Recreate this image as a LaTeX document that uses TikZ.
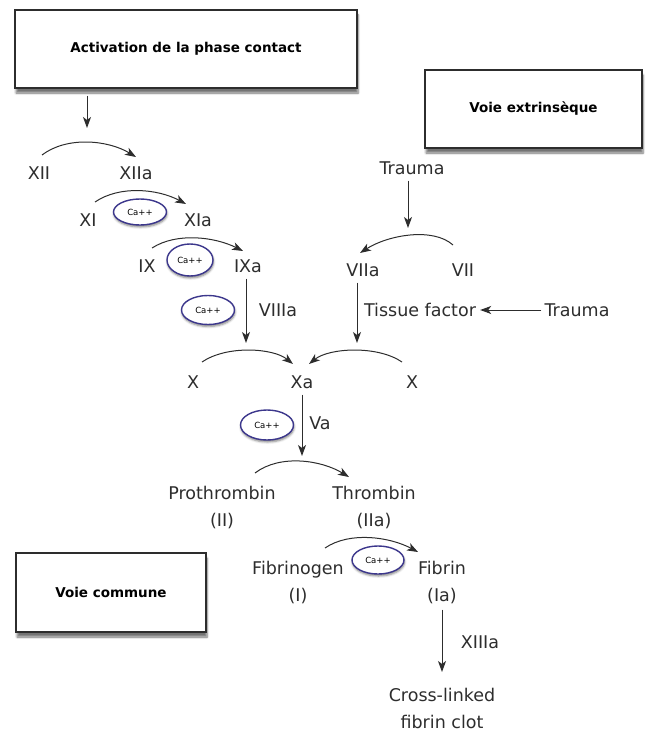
\documentclass[tikz,border=0pt]{standalone}
\usepackage{fontspec}
\setmainfont{DejaVu Sans}
\usetikzlibrary{arrows.meta,shapes.geometric,shadows.blur}
\definecolor{ringc}{RGB}{60,55,140}
\definecolor{inkc}{RGB}{45,45,45}
\tikzset{
  arr/.style={-{Stealth[length=11pt,width=8pt,inset=3pt]},line width=1pt,draw=inkc},
  lbl/.style={inner sep=0pt,font=\fontsize{17.5}{27}\selectfont,text=inkc},
  titlebox/.style={draw=inkc,line width=1.4pt,fill=white,rectangle,inner sep=0pt,
     font=\fontsize{13.5}{16}\selectfont\bfseries,
     blur shadow={shadow xshift=1pt,shadow yshift=-5pt,shadow blur steps=6,shadow opacity=55}},
  caion/.style={ellipse,draw=ringc,line width=1.4pt,fill=white,inner sep=0pt,
     font=\fontsize{8.5}{9}\selectfont,
     blur shadow={shadow xshift=0.5pt,shadow yshift=-2pt,shadow blur steps=4,shadow opacity=50}},
}
\begin{document}
\begin{tikzpicture}[x=1pt,y=-1pt]
\useasboundingbox (0,0) rectangle (652,733);
% title boxes
\node[titlebox,minimum width=342pt,minimum height=78pt] (box1) at (186,49) {Activation de la phase contact};
\node[titlebox,minimum width=217pt,minimum height=78pt] (box2) at (533.5,109) {Voie extrinsèque};
\node[titlebox,minimum width=190pt,minimum height=79pt] (box3) at (111,592.5) {Voie commune};

% intrinsic cascade
\node[lbl] (xii) at (39,173) {XII};
\node[lbl] (xiia) at (136,173) {XIIa};
\node[lbl] (xi) at (88,220) {XI};
\node[lbl] (xia) at (198,220) {XIa};
\node[lbl] (ix) at (147,266) {IX};
\node[lbl] (ixa) at (248,266) {IXa};
\node[lbl] (viiia) at (278,310) {VIIIa};
\node[caion,minimum width=53pt,minimum height=26pt] (ca1) at (140,212) {Ca++};
\node[caion,minimum width=46pt,minimum height=32pt] (ca2) at (190,260) {Ca++};
\node[caion,minimum width=53pt,minimum height=29pt] (ca3) at (208,310) {Ca++};

\coordinate (c1) at (87,128);
\draw[arr] (box1.south -| c1) ++(0,7) -- (c1);

\coordinate (a1s) at (42,155); \coordinate (a1e) at (136,157);
\draw[arr] (a1s) .. controls +(25,-19) and +(-28,-17) .. (a1e);
\coordinate (a2s) at (95,202); \coordinate (a2e) at (186,204);
\draw[arr] (a2s) .. controls +(25,-17) and +(-28,-15) .. (a2e);
\coordinate (a3s) at (152,248); \coordinate (a3e) at (243,251);
\draw[arr] (a3s) .. controls +(25,-16) and +(-28,-14) .. (a3e);

\coordinate (ixd) at (246,343);
\draw[arr] (ixa.south -| ixd) ++(0,6) -- (ixd);

% extrinsic
\node[lbl] (trauma1) at (412,168) {Trauma};
\node[lbl] (viia) at (363,270) {VIIa};
\node[lbl] (vii) at (463,270) {VII};
\node[lbl] (tf) at (420,310) {Tissue factor};
\node[lbl] (trauma2) at (577,310) {Trauma};
\coordinate (t1d) at (408,228);
\draw[arr] (trauma1.south -| t1d) ++(0,6) -- (t1d);
\coordinate (a4s) at (453,245); \coordinate (a4e) at (360,253);
\draw[arr] (a4s) .. controls +(-20,-18) and +(28,-18) .. (a4e);
\draw[arr,shorten <=3pt,shorten >=4pt] (trauma2.west) -- (tf.east);
\coordinate (viiad) at (357,343);
\draw[arr] (viia.south -| viiad) ++(0,6) -- (viiad);

% common pathway
\node[lbl] (xl) at (193,382) {X};
\node[lbl] (xa) at (302,382) {Xa};
\node[lbl] (xr) at (412,382) {X};
\coordinate (a5s) at (202,362); \coordinate (a5e) at (293,364);
\draw[arr] (a5s) .. controls +(25,-17) and +(-20,-16) .. (a5e);
\coordinate (a6s) at (402,362); \coordinate (a6e) at (309,364);
\draw[arr] (a6s) .. controls +(-25,-17) and +(20,-16) .. (a6e);

\node[lbl] (va) at (320,423) {Va};
\node[caion,minimum width=53pt,minimum height=30pt] (ca4) at (267,425) {Ca++};
\coordinate (xad) at (302,456);
\draw[arr] (xa.south -| xad) ++(0,6) -- (xad);

\node[lbl,align=center] (prot) at (222,507) {Prothrombin\\(II)};
\node[lbl,align=center] (thr) at (374,507) {Thrombin\\(IIa)};
\coordinate (a7s) at (255,473); \coordinate (a7e) at (349,477);
\draw[arr] (a7s) .. controls +(25,-19) and +(-28,-17) .. (a7e);

\node[lbl,align=center] (fgn) at (298,582) {Fibrinogen\\(I)};
\node[lbl,align=center] (fbn) at (442,582) {Fibrin\\(Ia)};
\node[caion,minimum width=52pt,minimum height=28pt] (ca5) at (378,560) {Ca++};
\coordinate (a8s) at (325,548); \coordinate (a8e) at (418,552);
\draw[arr] (a8s) .. controls +(25,-17) and +(-28,-15) .. (a8e);

\node[lbl] (xiiia) at (480,642) {XIIIa};
\coordinate (fbd) at (442,672);
\draw[arr] (fbn.south -| fbd) ++(0,6) -- (fbd);
\node[lbl,align=center] (clot) at (442,708) {Cross-linked\\fibrin clot};
\end{tikzpicture}
\end{document}
